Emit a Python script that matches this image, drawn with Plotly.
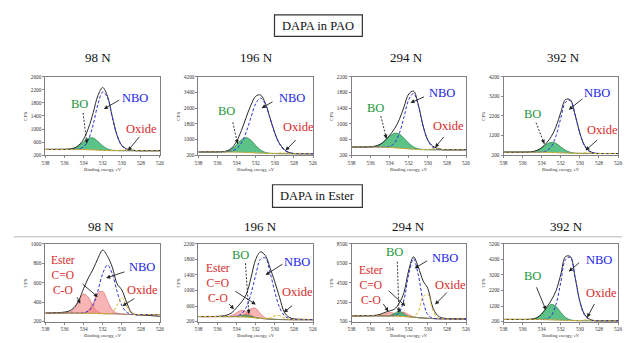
import plotly.graph_objects as go

# ---------------- data ----------------
energy = [538.0, 537.5, 537.0, 536.5, 536.0, 535.5, 535.0, 534.5, 534.0, 533.5, 533.0, 532.5,
          532.0, 531.5, 531.0, 530.5, 530.0, 529.5, 529.0, 528.5, 528.0, 527.5, 527.0, 526.5, 526.0]
energy_ticks = [538, 536, 534, 532, 530, 528, 526]

load_titles = ["98 N", "196 N", "294 N", "392 N"]
group_titles = ["DAPA in PAO", "DAPA in Ester"]

# DAPA in PAO, 98 N
pao98_yticks = [200, 600, 1000, 1400, 1800, 2200, 2600]
pao98_bg = [380, 380, 380, 380, 380, 380, 379, 378, 376, 372, 366, 358, 350, 345, 342, 341, 340, 340, 340, 340, 340, 340, 340, 340, 340]
pao98_bo = [0, 0, 0, 0, 1, 10, 39, 115, 237, 348, 359, 263, 137, 50, 13, 2, 0, 0, 0, 0, 0, 0, 0, 0, 0]
pao98_nbo = [0, 0, 0, 0, 0, 0, 3, 16, 85, 306, 774, 1404, 1782, 1611, 1026, 468, 148, 32, 5, 0, 0, 0, 0, 0, 0]
pao98_oxide = [0, 0, 0, 0, 0, 0, 0, 0, 0, 0, 0, 0, 0, 0, 0, 3, 15, 25, 15, 3, 0, 0, 0, 0, 0]

# DAPA in PAO, 196 N
pao196_yticks = [200, 1000, 1800, 2600, 3400, 4200]
pao196_bg = [370, 370, 370, 370, 370, 369, 368, 366, 362, 356, 347, 336, 324, 312, 301, 293, 287, 283, 281, 280, 280, 280, 280, 280, 280]
pao196_bo = [0, 0, 0, 0, 2, 10, 47, 158, 375, 630, 750, 630, 375, 158, 47, 10, 2, 0, 0, 0, 0, 0, 0, 0, 0]
pao196_nbo = [0, 0, 0, 0, 0, 0, 11, 50, 176, 476, 1036, 1792, 2506, 2800, 2506, 1792, 1036, 476, 176, 50, 11, 0, 0, 0, 0]
pao196_oxide = [0, 0, 0, 0, 0, 0, 0, 0, 0, 0, 0, 0, 0, 0, 0, 0, 8, 35, 35, 8, 0, 0, 0, 0, 0]

# DAPA in PAO, 294 N
pao294_yticks = [200, 600, 1000, 1400, 1800, 2200]
pao294_bg = [410, 410, 410, 410, 410, 409, 408, 405, 400, 393, 384, 374, 364, 355, 348, 344, 342, 341, 340, 340, 340, 340, 340, 340, 340]
pao294_bo = [0, 0, 0, 0, 6, 24, 71, 165, 285, 366, 356, 259, 143, 58, 18, 4, 0, 0, 0, 0, 0, 0, 0, 0, 0]
pao294_nbo = [0, 0, 0, 0, 0, 0, 0, 4, 25, 115, 364, 798, 1253, 1420, 1120, 602, 238, 66, 13, 2, 0, 0, 0, 0, 0]
pao294_oxide = [0, 0, 0, 0, 0, 0, 0, 0, 0, 0, 0, 0, 0, 0, 0, 0, 6, 26, 26, 6, 0, 0, 0, 0, 0]

# DAPA in PAO, 392 N
pao392_yticks = [200, 1200, 2200, 3200, 4200]
pao392_bg = [360, 360, 360, 360, 360, 360, 359, 358, 356, 352, 346, 338, 328, 318, 308, 300, 295, 292, 291, 290, 290, 290, 290, 290, 290]
pao392_bo = [0, 0, 0, 0, 1, 5, 24, 88, 224, 406, 515, 465, 296, 135, 43, 9, 2, 0, 0, 0, 0, 0, 0, 0, 0]
pao392_nbo = [0, 0, 0, 0, 0, 0, 0, 0, 11, 72, 292, 853, 1760, 2585, 2668, 1953, 1018, 371, 96, 17, 3, 0, 0, 0, 0]
pao392_oxide = [0, 0, 0, 0, 0, 0, 0, 0, 0, 0, 0, 0, 0, 0, 0, 0, 10, 38, 30, 6, 0, 0, 0, 0, 0]

# DAPA in Ester, 98 N
est98_yticks = [200, 400, 600, 800, 1000]
est98_bg = [288, 288, 288, 288, 288, 288, 288, 287, 286, 285, 284, 283, 282, 281, 280, 279, 277, 275, 273, 272, 272, 272, 272, 272, 272]
est98_raw = [290, 288, 291, 292, 298, 310, 345, 420, 540, 650, 740, 850, 935, 870, 760, 590, 525, 400, 295, 270, 268, 265, 262, 258, 255]
est98_co = [0, 0, 0, 0, 1, 9, 44, 128, 198, 164, 74, 18, 2, 0, 0, 0, 0, 0, 0, 0, 0, 0, 0, 0, 0]
est98_c_eq_o = [0, 0, 0, 0, 0, 0, 0, 0, 4, 30, 108, 215, 228, 132, 41, 7, 1, 0, 0, 0, 0, 0, 0, 0, 0]
est98_nbo = [0, 0, 0, 0, 0, 0, 0, 0, 4, 24, 88, 233, 412, 500, 412, 233, 88, 24, 4, 0, 0, 0, 0, 0, 0]
est98_oxide = [0, 0, 0, 0, 0, 0, 0, 0, 0, 0, 0, 0, 0, 0, 11, 85, 170, 85, 11, 0, 0, 0, 0, 0, 0]

# DAPA in Ester, 196 N
est196_yticks = [200, 600, 1000, 1400, 1800, 2200]
est196_bg = [330, 330, 330, 330, 330, 330, 329, 328, 326, 322, 316, 307, 296, 284, 273, 264, 258, 254, 252, 251, 250, 250, 250, 250, 250]
est196_raw = [332, 330, 330, 332, 335, 345, 370, 430, 560, 700, 900, 1320, 1800, 1990, 1900, 1580, 1220, 820, 440, 310, 270, 262, 258, 255, 252]
est196_co = [0, 0, 0, 0, 0, 0, 4, 31, 102, 167, 136, 54, 11, 1, 0, 0, 0, 0, 0, 0, 0, 0, 0, 0, 0]
est196_c_eq_o = [0, 0, 0, 0, 0, 0, 0, 0, 1, 16, 91, 224, 243, 117, 24, 2, 0, 0, 0, 0, 0, 0, 0, 0, 0]
est196_bo = [0, 0, 0, 0, 0, 0, 0, 0, 7, 31, 50, 31, 7, 0, 0, 0, 0, 0, 0, 0, 0, 0, 0, 0, 0]
est196_nbo = [0, 0, 0, 0, 0, 0, 0, 3, 18, 77, 248, 608, 1104, 1520, 1563, 1200, 704, 304, 101, 24, 5, 0, 0, 0, 0]
est196_oxide = [0, 0, 0, 0, 0, 0, 0, 0, 0, 0, 0, 0, 0, 0, 4, 32, 92, 102, 43, 7, 0, 0, 0, 0, 0]

# DAPA in Ester, 294 N
est294_yticks = [500, 2500, 4500, 6500, 8500]
est294_bg = [1100, 1100, 1100, 1100, 1100, 1098, 1095, 1090, 1080, 1065, 1045, 1020, 990, 950, 910, 870, 840, 815, 800, 790, 785, 780, 780, 780, 780]
est294_raw = [1100, 1100, 1105, 1110, 1120, 1150, 1250, 1450, 1600, 1780, 2400, 3500, 5800, 7150, 6100, 4700, 3900, 2000, 1150, 880, 820, 800, 790, 780, 775]
est294_co = [0, 0, 0, 0, 1, 15, 77, 224, 347, 287, 130, 31, 4, 0, 0, 0, 0, 0, 0, 0, 0, 0, 0, 0, 0]
est294_c_eq_o = [0, 0, 0, 0, 0, 0, 0, 0, 10, 95, 329, 441, 225, 45, 3, 0, 0, 0, 0, 0, 0, 0, 0, 0, 0]
est294_bo = [0, 0, 0, 0, 0, 0, 0, 0, 35, 275, 550, 275, 35, 0, 0, 0, 0, 0, 0, 0, 0, 0, 0, 0, 0]
est294_nbo = [0, 0, 0, 0, 0, 0, 0, 0, 3, 42, 378, 1740, 4380, 6000, 4380, 1740, 378, 42, 3, 0, 0, 0, 0, 0, 0]
est294_oxide = [0, 0, 0, 0, 0, 0, 0, 0, 0, 0, 0, 0, 0, 57, 621, 2187, 2457, 891, 100, 3, 0, 0, 0, 0, 0]

# DAPA in Ester, 392 N
est392_yticks = [200, 1200, 2200, 3200, 4200, 5200]
est392_bg = [340, 340, 340, 340, 340, 340, 339, 337, 333, 326, 316, 304, 292, 280, 270, 262, 256, 253, 251, 250, 250, 250, 250, 250, 250]
est392_bo = [0, 0, 0, 0, 0, 3, 23, 110, 356, 733, 990, 870, 500, 190, 46, 7, 0, 0, 0, 0, 0, 0, 0, 0, 0]
est392_nbo = [0, 0, 0, 0, 0, 0, 0, 0, 8, 46, 265, 1008, 2436, 3906, 4057, 2772, 1218, 353, 67, 8, 0, 0, 0, 0, 0]
est392_oxide = [0, 0, 0, 0, 0, 0, 0, 0, 0, 0, 0, 0, 0, 0, 0, 0, 15, 55, 45, 10, 0, 0, 0, 0, 0]

# ---------------- panel table built from the arrays ----------------
panels = [
    dict(bg=pao98_bg, raw=None, bo=pao98_bo, nbo=pao98_nbo, ox=pao98_oxide, est=[], yt=pao98_yticks),
    dict(bg=pao196_bg, raw=None, bo=pao196_bo, nbo=pao196_nbo, ox=pao196_oxide, est=[], yt=pao196_yticks),
    dict(bg=pao294_bg, raw=None, bo=pao294_bo, nbo=pao294_nbo, ox=pao294_oxide, est=[], yt=pao294_yticks),
    dict(bg=pao392_bg, raw=None, bo=pao392_bo, nbo=pao392_nbo, ox=pao392_oxide, est=[], yt=pao392_yticks),
    dict(bg=est98_bg, raw=est98_raw, bo=None, nbo=est98_nbo, ox=est98_oxide, est=[est98_co, est98_c_eq_o], yt=est98_yticks),
    dict(bg=est196_bg, raw=est196_raw, bo=est196_bo, nbo=est196_nbo, ox=est196_oxide, est=[est196_co, est196_c_eq_o], yt=est196_yticks),
    dict(bg=est294_bg, raw=est294_raw, bo=est294_bo, nbo=est294_nbo, ox=est294_oxide, est=[est294_co, est294_c_eq_o], yt=est294_yticks),
    dict(bg=est392_bg, raw=None, bo=est392_bo, nbo=est392_nbo, ox=est392_oxide, est=[], yt=est392_yticks),
]

# ---------------- styling / layout ----------------
W, H = 626, 343
SERIF = "Liberation Serif, Times New Roman, serif"
GREEN, BLUE, RED = "#23963a", "#2323e6", "#d62a2a"
PW = 116
COL_LEFT = [42, 197, 352, 506]
ROW_TOP = [75, 245]
ROW_BOT = [155, 324.3]
ESTER_TXT = "Ester<br>C=O<br>C-O"

G, B, R = GREEN, BLUE, RED
panel_labels = [
    [("BO", G, 0.293, 0.65), ("NBO", B, 0.784, 0.725), ("Oxide", R, 0.836, 0.3375)],
    [("BO", G, 0.241, 0.5625), ("NBO", B, 0.816, 0.73), ("Oxide", R, 0.873, 0.354)],
    [("BO", G, 0.213, 0.596), ("NBO", B, 0.787, 0.79), ("Oxide", R, 0.851, 0.375)],
    [("BO", G, 0.256, 0.52), ("NBO", B, 0.816, 0.79), ("Oxide", R, 0.865, 0.32)],
    [(ESTER_TXT, R, 0.155, 0.60), ("NBO", B, 0.845, 0.706), ("Oxide", R, 0.845, 0.41)],
    [("BO", G, 0.37, 0.86), (ESTER_TXT, R, 0.17, 0.50), ("NBO", B, 0.859, 0.77), ("Oxide", R, 0.868, 0.38)],
    [("BO", G, 0.379, 0.895), (ESTER_TXT, R, 0.17, 0.475), ("NBO", B, 0.816, 0.82), ("Oxide", R, 0.868, 0.474)],
    [("BO", G, 0.25, 0.58), ("NBO", B, 0.836, 0.79), ("Oxide", R, 0.855, 0.37)],
]
panel_arrows = [
    [(0.328, 0.54, 0.362, 0.15, True), (0.655, 0.71, 0.51, 0.59, False), (0.83, 0.25, 0.72, 0.06, False)],
    [(0.30, 0.42, 0.342, 0.146, True), (0.658, 0.69, 0.552, 0.60, False), (0.86, 0.21, 0.76, 0.06, False)],
    [(0.256, 0.5, 0.305, 0.21, True), (0.644, 0.75, 0.515, 0.667, False), (0.816, 0.25, 0.73, 0.10, False)],
    [(0.284, 0.416, 0.356, 0.146, True), (0.70, 0.73, 0.57, 0.58, False), (0.83, 0.21, 0.716, 0.06, False)],
    [(0.313, 0.496, 0.457, 0.315, False), (0.27, 0.33, 0.304, 0.23, False),
     (0.70, 0.643, 0.53, 0.56, False), (0.787, 0.306, 0.672, 0.20, False)],
    [(0.41, 0.75, 0.44, 0.10, True), (0.31, 0.40, 0.50, 0.22, False), (0.255, 0.243, 0.31, 0.16, False),
     (0.745, 0.748, 0.586, 0.60, False), (0.83, 0.22, 0.745, 0.117, False)],
    [(0.40, 0.77, 0.414, 0.117, True), (0.313, 0.41, 0.47, 0.20, False), (0.27, 0.243, 0.322, 0.13, False),
     (0.672, 0.79, 0.552, 0.685, False), (0.845, 0.39, 0.73, 0.22, False)],
    [(0.284, 0.454, 0.37, 0.15, False), (0.672, 0.77, 0.57, 0.643, False), (0.80, 0.243, 0.73, 0.054, False)],
]
title_px = [[(95, 55), (256, 55), (408, 55), (567, 55)],
            [(98, 227), (260, 227), (410, 227), (570, 227)]]


def fx(px):
    return px / W


def fy(py):
    return 1 - py / H


def add(a, b):
    return [u + v for u, v in zip(a, b)]


fig = go.Figure()
annotations = []
shapes = []
layout_axes = {}
CEN = dict(xanchor="center", yanchor="middle")

for i, p in enumerate(panels):
    row, col = divmod(i, 4)
    n = i + 1
    s = "" if n == 1 else str(n)
    L = COL_LEFT[col]
    Rr = L + PW
    top, bot = ROW_TOP[row], ROW_BOT[row]
    ph = bot - top
    yt = p["yt"]

    common = dict(xaxis="x" + s, yaxis="y" + s, x=energy, mode="lines", hoverinfo="skip",
                  showlegend=False, line_shape="spline")
    bg = p["bg"]

    # filled components (ester pinks, then BO green)
    fills = [(c, "rgba(242,120,120,0.55)", "rgba(225,95,95,0.9)") for c in p["est"]]
    if p["bo"] is not None:
        fills.append((p["bo"], "rgba(50,180,105,0.8)", "#1d7a3c"))
    for comp, fc, lc in fills:
        fig.add_trace(go.Scatter(y=bg, line=dict(width=0, color="rgba(0,0,0,0)"), **common))
        fig.add_trace(go.Scatter(y=add(bg, comp), fill="tonexty", fillcolor=fc,
                                 line=dict(width=0.7, color=lc), **common))

    # background line
    fig.add_trace(go.Scatter(y=bg, line=dict(width=0.8, color="#8a8a6a"), **common))

    # envelope / measured data
    if p["raw"] is not None:
        env = p["raw"]
    else:
        env = list(bg)
        for comp in [p["bo"], p["nbo"], p["ox"]] + p["est"]:
            if comp is not None:
                env = add(env, comp)
    fig.add_trace(go.Scatter(y=env, line=dict(width=1.0, color="#2a2a2a"), **common))

    # NBO and oxide dashed
    fig.add_trace(go.Scatter(y=add(bg, p["nbo"]), line=dict(width=1.0, color="#3030d8", dash="3px,2px"), **common))
    fig.add_trace(go.Scatter(y=add(bg, p["ox"]), line=dict(width=1.0, color="#e0b820", dash="3px,2px"), **common))

    tickfont = dict(size=5.3, color="#333", family=SERIF)
    layout_axes["xaxis" + s] = dict(domain=[fx(L), fx(Rr)], range=[538, 526], anchor="y" + s,
                                    tickvals=energy_ticks, ticktext=[str(t) for t in energy_ticks],
                                    ticks="outside", ticklen=2, tickwidth=0.7, tickcolor="#555",
                                    tickfont=tickfont, showline=True, mirror=True, linecolor="#808080",
                                    linewidth=1, showgrid=False, zeroline=False)
    layout_axes["yaxis" + s] = dict(domain=[fy(bot), fy(top)], range=[yt[0], yt[-1]], anchor="x" + s,
                                    tickvals=yt, ticktext=[str(t) for t in yt],
                                    ticks="outside", ticklen=2, tickwidth=0.7, tickcolor="#555",
                                    tickfont=tickfont, showline=True, mirror=True, linecolor="#808080",
                                    linewidth=1, showgrid=False, zeroline=False)

    # axis titles
    annotations.append(dict(text="Binding energy, eV", x=fx((L + Rr) / 2), y=fy(bot + 14.5),
                            xref="paper", yref="paper", showarrow=False, **CEN,
                            font=dict(size=4.8, color="#333", family=SERIF)))
    annotations.append(dict(text="CPS", x=fx(L - 20), y=fy((top + bot) / 2), textangle=-90,
                            xref="paper", yref="paper", showarrow=False, **CEN,
                            font=dict(size=5, color="#333", family=SERIF)))

    # panel title
    tx, ty = title_px[row][col]
    annotations.append(dict(text=load_titles[col], x=fx(tx), y=fy(ty), xref="paper", yref="paper",
                            showarrow=False, **CEN, font=dict(size=13, color="#111", family=SERIF)))

    # labels
    for text, color, lx, ly in panel_labels[i]:
        fsize = 11.5 if "<br>" in text else 12.5
        annotations.append(dict(text=text, x=lx, y=ly, xref="x" + s + " domain", yref="y" + s + " domain",
                                showarrow=False, **CEN, font=dict(size=fsize, color=color, family=SERIF)))

    # arrows
    for tx0, ty0, hx, hy, dashed in panel_arrows[i]:
        dxp = (tx0 - hx) * PW
        dyp = -(ty0 - hy) * ph
        if dashed:
            shapes.append(dict(type="line", xref="x" + s + " domain", yref="y" + s + " domain",
                               x0=tx0, y0=ty0, x1=hx, y1=hy,
                               line=dict(color="#222", width=0.9, dash="2px,1.5px")))
            ln = (dxp ** 2 + dyp ** 2) ** 0.5
            dxp, dyp = dxp / ln * 5, dyp / ln * 5
        annotations.append(dict(text="", x=hx, y=hy, xref="x" + s + " domain", yref="y" + s + " domain",
                                ax=dxp, ay=dyp, axref="pixel", ayref="pixel", showarrow=True,
                                arrowhead=2, arrowsize=0.9, arrowwidth=0.9, arrowcolor="#222"))

# group title boxes
for (x0, y0, x1, y1), txt in zip([(274, 12, 363, 34), (272, 185, 363, 208)], group_titles):
    shapes.append(dict(type="rect", xref="paper", yref="paper", x0=fx(x0), x1=fx(x1), y0=fy(y1), y1=fy(y0),
                       line=dict(color="#333", width=1.2), fillcolor="rgba(0,0,0,0)"))
    annotations.append(dict(text=txt, x=fx((x0 + x1) / 2), y=fy((y0 + y1) / 2), xref="paper", yref="paper",
                            showarrow=False, **CEN, font=dict(size=12.5, color="#111", family=SERIF)))

# separator line above lower row
shapes.append(dict(type="line", xref="paper", yref="paper", x0=fx(10), x1=1, y0=fy(238), y1=fy(238),
                   line=dict(color="#cfcfcf", width=1.5)))

fig.update_layout(width=W, height=H, margin=dict(l=0, r=0, t=0, b=0),
                  paper_bgcolor="white", plot_bgcolor="white", showlegend=False,
                  annotations=annotations, shapes=shapes, font=dict(family=SERIF),
                  **layout_axes)

fig.write_html("out.html", config={"displayModeBar": False, "staticPlot": True},
               post_script="document.body.style.margin='0';document.body.style.padding='0';"
                           "document.body.style.overflow='hidden';")
